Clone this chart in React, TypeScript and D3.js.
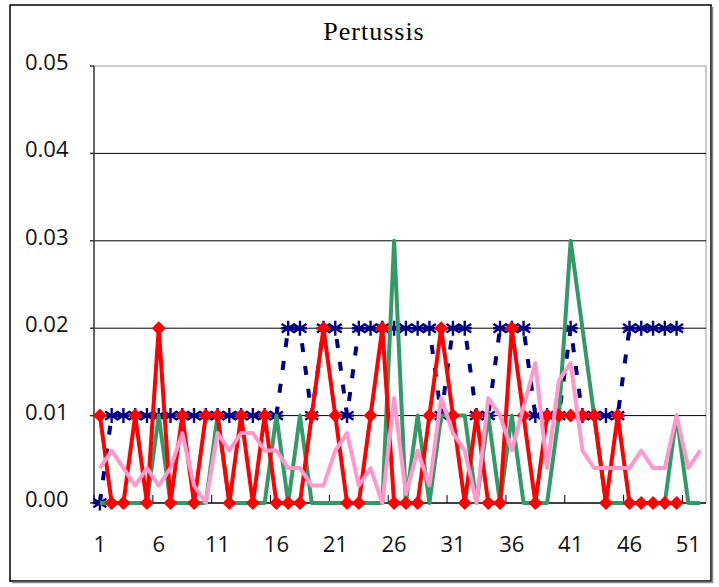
import React from "react";
import * as d3 from "d3";

// weekly incidence, weeks 1..52
const weeks = Array.from({ length: 52 }, (_, i) => i + 1);
const tickWeeks = [1, 6, 11, 16, 21, 26, 31, 36, 41, 46, 51];
const yTicks = [0, 0.01, 0.02, 0.03, 0.04, 0.05];

// navy dashed, star markers (weeks 1-50)
const navyValues = [
  0, 0.01, 0.01, 0.01, 0.01, 0.01, 0.01, 0.01, 0.01, 0.01,
  0.01, 0.01, 0.01, 0.01, 0.01, 0.01, 0.02, 0.02, 0.01, 0.02,
  0.02, 0.01, 0.02, 0.02, 0.02, 0.02, 0.02, 0.02, 0.02, 0.01,
  0.02, 0.02, 0.01, 0.01, 0.02, 0.02, 0.02, 0.01, 0.01, 0.01,
  0.02, 0.01, 0.01, 0.01, 0.01, 0.02, 0.02, 0.02, 0.02, 0.02,
  null, null,
];

// red, diamond markers (weeks 1-50)
const redValues = [
  0.01, 0, 0, 0.01, 0, 0.02, 0, 0.01, 0, 0.01,
  0.01, 0, 0.01, 0, 0.01, 0, 0, 0, 0.01, 0.02,
  0.01, 0, 0, 0.01, 0.02, 0, 0, 0, 0.01, 0.02,
  0.01, 0, 0.01, 0, 0, 0.02, 0.01, 0, 0.01, 0.01,
  0.01, 0.01, 0.01, 0, 0.01, 0, 0, 0, 0, 0,
  null, null,
];

// green, no markers
const greenValues = [
  0, 0, 0, 0, 0, 0.01, 0, 0, 0, 0,
  0.01, 0, 0, 0, 0, 0.01, 0, 0.01, 0, 0,
  0, 0, 0, 0, 0, 0.03, 0, 0.01, 0, 0.01,
  0.01, 0.01, 0, 0.01, 0, 0.01, 0, 0, 0, 0.01,
  0.03, 0.02, 0.01, 0, 0, 0, 0, 0, 0, 0.01,
  0, 0,
];

// pink, no markers
const pinkValues = [
  0.004, 0.006, 0.004, 0.002, 0.004, 0.002, 0.004, 0.008, 0.002, 0,
  0.008, 0.006, 0.008, 0.008, 0.006, 0.006, 0.004, 0.004, 0.002, 0.002,
  0.006, 0.008, 0.002, 0.004, 0, 0.012, 0.001, 0.006, 0.002, 0.012,
  0.008, 0.006, 0, 0.012, 0.01, 0.006, 0.011, 0.016, 0.004, 0.014,
  0.016, 0.006, 0.004, 0.004, 0.004, 0.004, 0.006, 0.004, 0.004, 0.01,
  0.004, 0.006,
];

const W = 719;
const H = 587;
const left = 94;
const right = 706;
const top = 66;
const bottom = 503;
const labelFont = "'Open Sans', sans-serif";

export default function App() {
  const x = d3.scaleBand<number>().domain(weeks).range([left, right]).paddingInner(0).paddingOuter(0);
  const cx = (w: number) => (x(w) as number) + x.bandwidth() / 2;
  const y = d3.scaleLinear().domain([0, 0.05]).range([bottom, top]);

  const line = d3
    .line<number | null>()
    .defined((d) => d != null)
    .x((_, i) => cx(weeks[i]))
    .y((d) => y(d as number));

  const pts = (vals: (number | null)[]) =>
    vals.map((v, i) => ({ w: weeks[i], v })).filter((p) => p.v != null) as { w: number; v: number }[];

  const diamond = "M0,-7L7,0L0,7L-7,0Z";
  const star = "M0,-7.5V7.5M-6.5,-4.2L6.5,4.2M-6.5,4.2L6.5,-4.2M-7,0H7";

  const tickBounds = d3.range(0, 51, 5).map((k) => left + k * x.bandwidth());

  return (
    <svg width={W} height={H} style={{ position: "absolute", left: 0, top: 0, background: "#fff" }}>
      <rect x={10} y={5} width={701} height={576} fill="#fff" stroke="#000" strokeWidth={1.5} />
      <line x1={712.5} y1={7} x2={712.5} y2={583} stroke="#888" strokeWidth={1.5} />
      <line x1={12} y1={582.5} x2={713} y2={582.5} stroke="#888" strokeWidth={1.5} />

      <text x={374} y={40} textAnchor="middle" fontFamily="'Liberation Serif', serif" fontSize={26} letterSpacing={1}>
        Pertussis
      </text>

      {/* plot frame + grid */}
      <line x1={left} y1={top} x2={right} y2={top} stroke="#999" strokeWidth={1} />
      <line x1={right} y1={top} x2={right} y2={bottom} stroke="#999" strokeWidth={1} />
      {yTicks.slice(1, 5).map((t) => (
        <line key={t} x1={left} x2={right} y1={y(t)} y2={y(t)} stroke="#000" strokeWidth={1} />
      ))}
      <line x1={left} y1={top} x2={left} y2={bottom} stroke="#333" strokeWidth={1.5} />
      {yTicks.map((t) => (
        <line key={"yt" + t} x1={left - 4} x2={left} y1={y(t)} y2={y(t)} stroke="#333" strokeWidth={1.5} />
      ))}
      <line x1={left} y1={bottom} x2={right} y2={bottom} stroke="#000" strokeWidth={1.5} />
      {tickBounds.map((bx) => (
        <line key={"xt" + bx} x1={bx} x2={bx} y1={bottom} y2={bottom - 8} stroke="#000" strokeWidth={1} />
      ))}

      {yTicks.map((t) => (
        <text key={"yl" + t} x={25} y={y(t) + 4} fontFamily={labelFont} fontSize={22} fill="#111">
          {t.toFixed(2)}
        </text>
      ))}
      {tickWeeks.map((w) => (
        <text key={"xl" + w} x={cx(w)} y={552} textAnchor="middle" fontFamily={labelFont} fontSize={22} fill="#111">
          {w}
        </text>
      ))}

      {/* navy dashed with stars */}
      <path d={line(navyValues) || ""} fill="none" stroke="#000080" strokeWidth={4} strokeDasharray="9,14" />
      {pts(navyValues).map((p) => (
        <path key={"n" + p.w} d={star} transform={`translate(${cx(p.w)},${y(p.v)})`} stroke="#000080" strokeWidth={2.4} fill="none" />
      ))}

      {/* green */}
      <path d={line(greenValues) || ""} fill="none" stroke="#339966" strokeWidth={4} strokeLinejoin="round" />

      {/* red with diamonds */}
      <path d={line(redValues) || ""} fill="none" stroke="#ff0000" strokeWidth={4} strokeLinejoin="round" />
      {pts(redValues).map((p) => (
        <path key={"r" + p.w} d={diamond} transform={`translate(${cx(p.w)},${y(p.v)})`} fill="#ff0000" />
      ))}

      {/* pink */}
      <path d={line(pinkValues) || ""} fill="none" stroke="#ff99cc" strokeWidth={4} strokeLinejoin="round" />
    </svg>
  );
}
